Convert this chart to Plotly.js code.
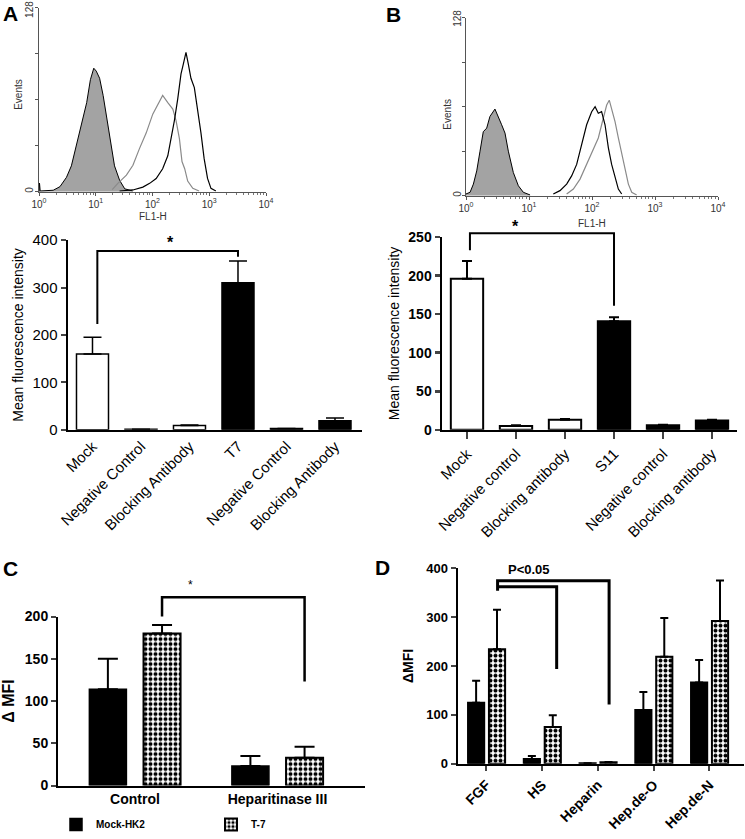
<!DOCTYPE html>
<html><head><meta charset="utf-8">
<script src="https://cdn.plot.ly/plotly-3.0.1.min.js"></script>
<style>body{margin:0;background:#fff}#chart{width:745px;height:839px}</style>
</head><body><div id="chart"></div>
<script>
// ---------------- DATA ----------------
// Panel A flow histogram (FL1-H value, events)
const histA_shaded_fl = [1.0, 1.02, 1.05, 1.78, 2.34, 3.05, 3.72, 4.57, 5.62, 6.92, 8.05, 9.23, 10.2, 11.7, 13.5, 15.5, 17.6, 21.4, 26.3, 32.4, 44.7];
const histA_shaded_ev = [0, 6, 0.5, 1, 3.5, 10, 18, 32, 46, 62, 78, 86, 84, 79, 67, 53, 37, 18, 8, 2, 0.5];
const histA_gray_fl = [19.5, 24.5, 34.7, 45.2, 58.9, 77.6, 101, 124, 151, 186, 228, 260, 298, 331, 369, 417, 513, 661];
const histA_gray_ev = [1.5, 5.8, 11.5, 18.4, 30, 41, 54, 61, 67, 62, 57.5, 49.5, 37, 21, 16, 7.4, 2.3, 0.5];
const histA_black_fl = [26.3, 45.2, 67.6, 89.1, 116, 151, 186, 214, 243, 278, 318, 350, 389, 427, 476, 546, 624, 714, 813, 933, 1072, 1309];
const histA_black_ev = [0.5, 1.2, 3.2, 5.8, 9.2, 16, 25, 37, 49.5, 64.5, 82, 89, 97, 89, 79, 72.5, 57.5, 41, 23, 9.2, 2.3, 0.5];

// Panel B flow histogram
const histB_shaded_fl = [1.0, 1.16, 1.31, 1.48, 1.67, 1.88, 2.13, 2.40, 2.88, 3.26, 3.68, 4.16, 4.70, 5.64, 6.78, 8.13, 10.4];
const histB_shaded_ev = [1.2, 2.4, 8.3, 17.8, 32, 46, 48.6, 57, 62.3, 57, 51, 45, 32, 16.6, 7.1, 2.4, 0.5];
const histB_black_fl = [24.3, 31.0, 39.6, 47.5, 57.1, 68.5, 82.2, 98.8, 112, 126, 142, 161, 182, 205, 232, 262, 296];
const histB_black_ev = [1.2, 3.6, 8.3, 14.2, 22.5, 36.7, 51, 60.4, 64, 59.3, 60.4, 51, 34.4, 22.5, 13, 4.7, 1.2];
const histB_gray_fl = [39.6, 50.6, 64.6, 82.2, 105, 126, 151, 171, 188, 205, 232, 262, 296, 334, 378, 427, 512];
const histB_gray_ev = [1.2, 4.7, 11.9, 22.5, 34.4, 41.5, 55.7, 65.2, 68.7, 62.8, 53.3, 41.5, 29.6, 17.8, 8.3, 2.4, 0.5];
const hist_events_max = 128;

// Panel A bars
const A_labels = ['Mock', 'Negative Control', 'Blocking Antibody', 'T7', 'Negative Control', 'Blocking Antibody'];
const A_values = [160, 1, 9, 310, 3, 19];
const A_errors = [35, 0, 1, 46, 0, 6];

// Panel B bars
const B_labels = ['Mock', 'Negative control', 'Blocking antibody', 'S11', 'Negative control', 'Blocking antibody'];
const B_values = [196, 5, 13, 141, 6, 12];
const B_errors = [23, 1, 1, 5, 0.5, 1];

// Panel C grouped bars
const C_labels = ['Control', 'Heparitinase III'];
const C_mock = [114, 23];
const C_mock_err = [36, 12];
const C_t7 = [180, 33];
const C_t7_err = [10, 13];

// Panel D grouped bars
const D_labels = ['FGF', 'HS', 'Heparin', 'Hep.de-O', 'Hep.de-N'];
const D_mock = [125, 10, 1, 110, 166];
const D_mock_err = [45, 6, 0, 37, 46];
const D_t7 = [234, 75, 3, 219, 292];
const D_t7_err = [81, 24, 0.5, 79, 83];

// ---------------- LAYOUT HELPERS ----------------
const W = 745, H = 839;
const FONT = 'Arial, "Liberation Sans", sans-serif';
const px = (a, b) => [a / W, b / W];
const py = (top, bottom) => [1 - bottom / H, 1 - top / H];
const idx = arr => arr.map((_, i) => i);
const zeros = arr => arr.map(() => 0);

const RA = { x: [-0.505, 5.557], y: [0, 400] };
const RB = { x: [-0.51, 5.51], y: [0, 250] };
const RC = { x: [-0.54, 1.614], y: [0, 200] };
const RD = { x: [-0.51, 4.62], y: [0, 400] };
const fx = (R, v) => (v - R.x[0]) / (R.x[1] - R.x[0]);
const fy = (R, v) => (v - R.y[0]) / (R.y[1] - R.y[0]);

const minorVals = [];
for (let d = 0; d < 4; d++) for (let k = 2; k < 10; k++) minorVals.push(k * Math.pow(10, d));

function histX(dom, anchor) {
  return {
    type: 'log', domain: dom, anchor: anchor, range: [0, 4],
    tickvals: [1, 10, 100, 1000, 10000],
    ticktext: ['10<sup>0</sup>', '10<sup>1</sup>', '10<sup>2</sup>', '10<sup>3</sup>', '10<sup>4</sup>'],
    ticks: 'outside', ticklen: 3, tickcolor: '#555', linecolor: '#555', linewidth: 1,
    showline: true, showgrid: false, zeroline: false,
    tickfont: { family: FONT, size: 10, color: '#333' },
    minor: { tickvals: minorVals, ticks: 'outside', ticklen: 2, tickcolor: '#777' }
  };
}
function histY(dom, anchor) {
  return {
    domain: dom, anchor: anchor, range: [0, hist_events_max],
    tickvals: [0, 32, 64, 96, 128], showticklabels: false,
    ticks: 'outside', ticklen: 3, tickcolor: '#555', linecolor: '#555', linewidth: 1,
    showline: true, showgrid: false, zeroline: false
  };
}

const traces = [];
function addHist(fl, ev, ax, style) {
  traces.push(Object.assign({
    type: 'scatter', mode: 'lines', x: fl, y: ev, xaxis: 'x' + ax, yaxis: 'y' + ax,
    showlegend: false, hoverinfo: 'skip'
  }, style));
}
const shadedStyle = { fill: 'tozeroy', fillcolor: '#a3a3a3', line: { color: '#000', width: 1 } };
const grayStyle = { line: { color: '#8a8a8a', width: 1.2 } };
const blackStyle = { line: { color: '#000', width: 1.2 } };
addHist(histA_shaded_fl, histA_shaded_ev, '', shadedStyle);
addHist(histA_gray_fl, histA_gray_ev, '', grayStyle);
addHist(histA_black_fl, histA_black_ev, '', blackStyle);
addHist(histB_shaded_fl, histB_shaded_ev, '3', shadedStyle);
addHist(histB_gray_fl, histB_gray_ev, '3', grayStyle);
addHist(histB_black_fl, histB_black_ev, '3', blackStyle);

// A bars
traces.push({
  type: 'bar', x: idx(A_labels), y: A_values, xaxis: 'x2', yaxis: 'y2', showlegend: false,
  marker: { color: A_values.map((_, i) => i < 3 ? '#fff' : '#000'), line: { color: '#000', width: 1.5 } },
  error_y: { type: 'data', symmetric: false, array: A_errors, arrayminus: zeros(A_errors), color: '#000', thickness: 1.5, width: 9 }
});
// B bars
traces.push({
  type: 'bar', x: idx(B_labels), y: B_values, xaxis: 'x4', yaxis: 'y4', showlegend: false,
  marker: { color: B_values.map((_, i) => i < 3 ? '#fff' : '#000'), line: { color: '#000', width: 2 } },
  error_y: { type: 'data', symmetric: false, array: B_errors, arrayminus: zeros(B_errors), color: '#000', thickness: 2, width: 5 }
});
// C bars
const checker = { shape: '.', bgcolor: '#fff', fgcolor: '#000', size: 5, solidity: 0.5 };
traces.push({
  type: 'bar', name: 'Mock-HK2', x: idx(C_labels), y: C_mock, xaxis: 'x5', yaxis: 'y5',
  width: 0.26, offset: -0.32,
  marker: { color: '#000', line: { color: '#000', width: 1.5 } },
  error_y: { type: 'data', symmetric: false, array: C_mock_err, arrayminus: zeros(C_mock_err), color: '#000', thickness: 2, width: 10 }
});
traces.push({
  type: 'bar', name: 'T-7', x: idx(C_labels), y: C_t7, xaxis: 'x5', yaxis: 'y5',
  width: 0.26, offset: 0.06,
  marker: { color: '#fff', pattern: checker, line: { color: '#000', width: 2 } },
  error_y: { type: 'data', symmetric: false, array: C_t7_err, arrayminus: zeros(C_t7_err), color: '#000', thickness: 2, width: 10 }
});
// D bars
traces.push({
  type: 'bar', x: idx(D_labels), y: D_mock, xaxis: 'x6', yaxis: 'y6', showlegend: false,
  width: 0.29, offset: -0.33,
  marker: { color: '#000', line: { color: '#000', width: 2 } },
  error_y: { type: 'data', symmetric: false, array: D_mock_err, arrayminus: zeros(D_mock_err), color: '#000', thickness: 2, width: 4 }
});
traces.push({
  type: 'bar', x: idx(D_labels), y: D_t7, xaxis: 'x6', yaxis: 'y6', showlegend: false,
  width: 0.29, offset: 0.045,
  marker: { color: '#fff', pattern: checker, line: { color: '#000', width: 2 } },
  error_y: { type: 'data', symmetric: false, array: D_t7_err, arrayminus: zeros(D_t7_err), color: '#000', thickness: 2, width: 4 }
});

// significance brackets / labels in axis-domain coordinates (allowed above the plot range)
function bracket(n, R, pts, width) {
  const path = pts.map((p, i) => (i ? 'L' : 'M') + fx(R, p[0]).toFixed(4) + ',' + fy(R, p[1]).toFixed(4)).join(' ');
  return { type: 'path', xref: 'x' + n + ' domain', yref: 'y' + n + ' domain', path: path, line: { color: '#000', width: width } };
}
function sigText(n, R, x, y, text, size) {
  return { text: text, xref: 'x' + n + ' domain', yref: 'y' + n + ' domain', x: fx(R, x), y: fy(R, y),
    xanchor: 'center', yanchor: 'middle', showarrow: false, font: { family: FONT, size: size, color: '#000' } };
}
function paperText(text, x, y, size, extra) {
  return Object.assign({ text: text, xref: 'paper', yref: 'paper', x: x / W, y: 1 - y / H,
    xanchor: 'center', yanchor: 'middle', showarrow: false, font: { family: FONT, size: size, color: '#333' } }, extra || {});
}

const baseAxis = { showgrid: false, zeroline: false, showline: true, linecolor: '#000' };
const normFont = { family: FONT, size: 14, color: '#000' };
const catFont = { family: FONT, size: 15, color: '#000' };
const boldFont = { family: FONT, size: 14, color: '#000', weight: 'bold' };
const letter = { family: FONT, size: 21, color: '#000' };

const layout = {
  width: W, height: H, margin: { l: 0, r: 0, t: 0, b: 0 },
  paper_bgcolor: '#fff', plot_bgcolor: 'rgba(0,0,0,0)',
  barmode: 'group', bargap: 0.34,
  font: { family: FONT, color: '#000' },
  xaxis: histX(px(39, 266), 'y'),
  yaxis: histY(py(8, 194), 'x'),
  xaxis3: histX(px(466, 718), 'y3'),
  yaxis3: histY(py(18, 198), 'x3'),
  xaxis2: Object.assign({}, baseAxis, {
    domain: px(68, 362), anchor: 'y2', range: RA.x, linewidth: 2,
    tickvals: idx(A_labels), ticktext: A_labels, tickangle: -45, ticks: '', tickfont: catFont
  }),
  yaxis2: Object.assign({}, baseAxis, {
    domain: py(243, 435), anchor: 'x2', range: RA.y, dtick: 100, linewidth: 2.5,
    ticks: 'outside', ticklen: 5, tickwidth: 2, tickfont: { family: FONT, size: 15, color: '#000' },
    title: { text: 'Mean fluorescence intensity', font: normFont, standoff: 6 }
  }),
  xaxis4: Object.assign({}, baseAxis, {
    domain: px(442, 737), anchor: 'y4', range: RB.x, linewidth: 2.5,
    tickvals: idx(B_labels), ticktext: B_labels, tickangle: -45, ticks: 'outside', ticklen: 7, tickwidth: 2,
    tickfont: catFont
  }),
  yaxis4: Object.assign({}, baseAxis, {
    domain: py(240, 435), anchor: 'x4', range: RB.y, dtick: 50, linewidth: 2.5,
    ticks: 'outside', ticklen: 5, tickwidth: 2.5, tickfont: boldFont,
    title: { text: 'Mean fluorescence intensity', font: normFont, standoff: 6 }
  }),
  xaxis5: Object.assign({}, baseAxis, {
    domain: px(58, 365), anchor: 'y5', range: RC.x, linewidth: 2,
    tickvals: idx(C_labels), ticktext: C_labels, tickangle: 0, ticks: '', tickfont: boldFont
  }),
  yaxis5: Object.assign({}, baseAxis, {
    domain: py(624, 795), anchor: 'x5', range: RC.y, dtick: 50, linewidth: 2,
    ticks: 'outside', ticklen: 5, tickwidth: 2, tickfont: boldFont,
    title: { text: 'Δ MFI', font: { family: FONT, size: 16, color: '#000', weight: 'bold' }, standoff: 8 }
  }),
  xaxis6: Object.assign({}, baseAxis, {
    domain: px(458, 744), anchor: 'y6', range: RD.x, linewidth: 2.5,
    tickvals: idx(D_labels), ticktext: D_labels, tickangle: -45, ticks: 'outside', ticklen: 5, tickwidth: 2,
    tickfont: { family: FONT, size: 14, color: '#000', weight: 'bold' }
  }),
  yaxis6: Object.assign({}, baseAxis, {
    domain: py(575, 773), anchor: 'x6', range: RD.y, dtick: 100, linewidth: 2.5,
    ticks: 'outside', ticklen: 5, tickwidth: 2, tickfont: { family: FONT, size: 13, color: '#000', weight: 'bold' },
    title: { text: 'ΔMFI', font: { family: FONT, size: 14, color: '#000', weight: 'bold' }, standoff: 10 }
  }),
  showlegend: true,
  legend: {
    orientation: 'h', x: 56 / W, y: 1 - 820 / H, xanchor: 'left', yanchor: 'top',
    font: { family: FONT, size: 10, color: '#000', weight: 'bold' },
    entrywidth: 110, entrywidthmode: 'pixels', bgcolor: 'rgba(0,0,0,0)', itemwidth: 30
  },
  shapes: [
    bracket(2, RA, [[0.1, 223], [0.1, 377], [3, 377], [3, 365]], 2),
    bracket(4, RB, [[0.06, 233], [0.06, 255], [3, 255], [3, 161]], 2),
    bracket(5, RC, [[0.19, 200], [0.19, 223], [1.19, 223], [1.19, 123]], 2.5),
    bracket(6, RD, [[0.2, 354], [0.2, 374], [2.2, 374], [2.2, 121]], 3),
    bracket(6, RD, [[0.2, 362], [1.26, 362], [1.26, 194]], 3)
  ],
  annotations: [
    Object.assign(paperText('<b>A</b>', 1, 0, 21, { xanchor: 'left', yanchor: 'top' }), { font: letter }),
    Object.assign(paperText('<b>B</b>', 384, 1, 21, { xanchor: 'left', yanchor: 'top' }), { font: letter }),
    Object.assign(paperText('<b>C</b>', 1, 562, 21, { xanchor: 'left', yanchor: 'top' }), { font: letter }),
    Object.assign(paperText('<b>D</b>', 373, 561, 21, { xanchor: 'left', yanchor: 'top' }), { font: letter }),
    paperText('Events', 19, 96, 10, { textangle: -90 }),
    paperText('Events', 448, 115, 10, { textangle: -90 }),
    paperText('128', 30, 9, 10, { textangle: -90 }),
    paperText('<span>0</span>', 30, 192, 10, { textangle: -90 }),
    paperText('128', 458, 19, 10, { textangle: -90 }),
    paperText('<span>0</span>', 458, 196, 10, { textangle: -90 }),
    paperText('FL1-H', 153, 219, 10),
    paperText('FL1-H', 592, 226, 10),
    sigText(2, RA, 1.6, 396, '<b>*</b>', 16),
    sigText(4, RB, 0.98, 264, '<b>*</b>', 16),
    sigText(5, RC, 0.39, 237, '*', 12),
    sigText(6, RD, 0.76, 397, '<b>P<0.05</b>', 13)
  ]
};

Plotly.newPlot('chart', traces, layout, { displayModeBar: false, staticPlot: true });
</script>
</body></html>
